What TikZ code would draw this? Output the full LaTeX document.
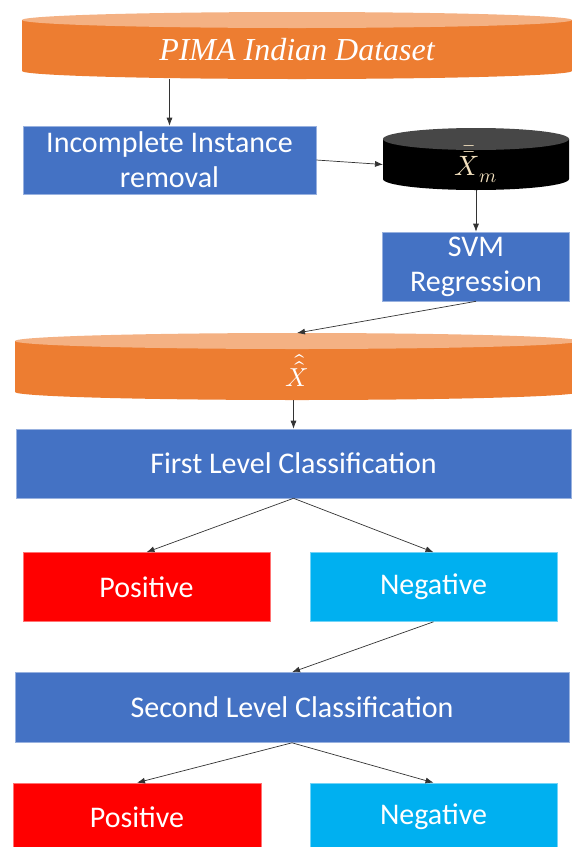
\documentclass[tikz,border=0pt]{standalone}
\usepackage{fontspec}
\usepackage{unicode-math}
\setmainfont{Carlito}
\setmathfont{Latin Modern Math}
\newfontfamily\titlefont{Liberation Serif}
\usetikzlibrary{arrows.meta}

\definecolor{boxblue}{RGB}{68,114,196}
\definecolor{tankorange}{RGB}{237,125,49}
\definecolor{tanklid}{RGB}{244,177,131}
\definecolor{posred}{RGB}{255,0,0}
\definecolor{negcyan}{RGB}{0,176,240}
\definecolor{xmtext}{RGB}{242,224,190}

\tikzset{
  stage/.style={fill=#1, draw=#1!55!white, line width=0.6pt, text=white,
    font=\fontsize{30}{35}\selectfont, align=center, inner sep=0pt},
  stage/.default=boxblue,
  arr/.style={-{Latex[length=8pt,width=6pt]}, black!80, line width=0.7pt}
}

% name, x, top, bottom, half width, lid radius, body, lid, text
\newcommand{\tank}[9]{%
  \fill[#7] (#2-#5,#3+#6) -- (#2-#5,#4-#6)
    arc[start angle=180,end angle=0,x radius=#5,y radius=#6]
    -- (#2+#5,#3+#6) -- cycle;
  \fill[#8] (#2,#3+#6) ellipse[x radius=#5,y radius=#6];
  \node[text=white, inner sep=0pt] (#1) at (#2,{(#3+#4+#6)/2}) {#9};
  \coordinate (#1-n) at (#2,#3);
  \coordinate (#1-s) at (#2,#4);
  \coordinate (#1-w) at (#2-#5,{(#3+#4+#6)/2});
}

\begin{document}
\begin{tikzpicture}[x=1pt, y=-1pt]
    \useasboundingbox (0,0) rectangle (571,847);

    \tank{data}{297}{12}{79}{275}{8}{tankorange}{tanklid}{\titlefont\itshape\fontsize{32}{32}\selectfont PIMA Indian Dataset}
    \node[stage, minimum width=293pt, minimum height=68pt] (inc) at (169.5,160) {Incomplete Instance\\removal};
    \tank{xm}{476}{128}{190}{93}{11}{black}{black!72}{\color{xmtext}\fontsize{28}{30}\selectfont\raisebox{-6pt}{$\bar{\bar{X}}_m$}}
    \node[stage, minimum width=187pt, minimum height=69pt] (svm) at (476,266.5) {SVM\\Regression};
    \tank{xhat}{297}{333}{400}{282}{8}{tankorange}{tanklid}{\fontsize{26}{28}\selectfont$\hat{\hat{X}}$}

    \node[stage, minimum width=555pt, minimum height=69pt] (first) at (293.5,463.5) {First Level Classification};
    \node[stage=posred, minimum width=247pt, minimum height=69pt] (pos1) at (146.5,587) {Positive};
    \node[stage=negcyan, minimum width=247pt, minimum height=69pt] (neg1) at (433.5,587) {Negative};

    \node[stage, minimum width=554pt, minimum height=70pt] (second) at (292,707.5) {Second Level Classification};
    \node[stage=posred, minimum width=248pt, minimum height=68pt] (pos2) at (137,817) {Positive};
    \node[stage=negcyan, minimum width=247pt, minimum height=68pt] (neg2) at (433.5,817) {Negative};

    % connectors
    \draw[arr] (inc.north |- data-s) -- (inc.north);
    \draw[arr] (inc.east) -- (xm-w);
    \draw[arr] (xm-s) -- (svm.north);
    \draw[arr] (svm.south) -- (xhat-n);
    \draw[arr] (first.north |- xhat-s) -- (first.north);
    \draw[arr] (first.south) -- (pos1.north);
    \draw[arr] (first.south) -- (neg1.north);
    \draw[arr] (neg1.south) -- (second.north);
    \draw[arr] (second.south) -- (pos2.north);
    \draw[arr] (second.south) -- (neg2.north);
\end{tikzpicture}
\end{document}
